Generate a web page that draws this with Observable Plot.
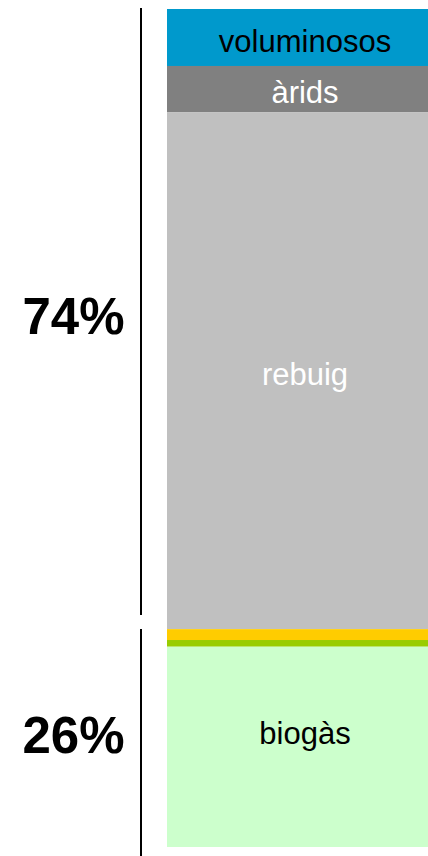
<!DOCTYPE html>
<html><head><meta charset="utf-8">
<script src="https://cdn.jsdelivr.net/npm/d3@7"></script>
<script src="https://cdn.jsdelivr.net/npm/@observablehq/plot@0.6"></script>
<style>html,body{margin:0;padding:0;background:#fff;} #chart svg{display:block}</style>
</head><body><div id="chart"></div>
<script>
// Data (top to bottom)
const segments = ["voluminosos", "àrids", "rebuig", "envasos", "vidre", "biogàs"];
const shares = [6.8, 5.5, 61.7, 1.3, 0.8, 23.9];
const segmentLabels = ["voluminosos", "àrids", "rebuig", "", "", "biogàs"];
const groupLabels = ["74%", "26%"];
const groupShares = [74, 26];

// Styles
const segmentColors = ["#0099CC", "#808080", "#C0C0C0", "#FFCC00", "#99CC00", "#CCFFCC"];
const labelColors = ["#000000", "#FFFFFF", "#FFFFFF", "#000000", "#000000", "#000000"];

let acc = 100;
const rows = segments.map((name, i) => {
  const top = acc; acc -= shares[i];
  return {name, label: segmentLabels[i], top, bottom: acc, mid: (top + acc) / 2,
          color: segmentColors[i], textColor: labelColors[i]};
});
acc = 100;
const groups = groupLabels.map((label, i) => {
  const top = acc; acc -= groupShares[i];
  return {label, top, bottom: acc, mid: (top + acc) / 2};
});

const font = "'Liberation Sans', Arial, Helvetica, sans-serif";
const plot = Plot.plot({
  width: 428, height: 856,
  marginTop: 9, marginBottom: 9, marginLeft: 167, marginRight: 0,
  x: {type: "band", domain: ["bar"], padding: 0, axis: null},
  y: {domain: [0, 100], axis: null},
  color: {type: "identity"},
  style: {fontFamily: font, background: "white"},
  marks: [
    Plot.barY(rows, {x: () => "bar", y1: "bottom", y2: "top", fill: "color"}),
    Plot.text(rows.filter(d => d.label && d.name !== "biogàs"), {
      x: () => "bar", y: "mid", text: "label", fill: "textColor",
      fontSize: 31, dx: 7, dy: 4
    }),
    Plot.text(rows.filter(d => d.name === "biogàs"), {
      x: () => "bar", y: "mid", text: "label", fill: "textColor",
      fontSize: 31, dx: 7, dy: -13
    }),
    Plot.text(groups, {
      y: "mid", text: "label", frameAnchor: "left", textAnchor: "middle",
      dx: -94, dy: -2, fontSize: 51, fontWeight: "bold", fill: "black"
    }),
    Plot.ruleX(groups.slice(0, 1), {x: null, y1: "top", y2: "bottom", dx: -157,
      stroke: "black", strokeWidth: 2, insetTop: -1, insetBottom: 14}),
    Plot.ruleX(groups.slice(1), {x: null, y1: "top", y2: "bottom", dx: -157,
      stroke: "black", strokeWidth: 2, insetTop: 0, insetBottom: -9})
  ]
});
document.getElementById("chart").appendChild(plot);
</script>
</body></html>
